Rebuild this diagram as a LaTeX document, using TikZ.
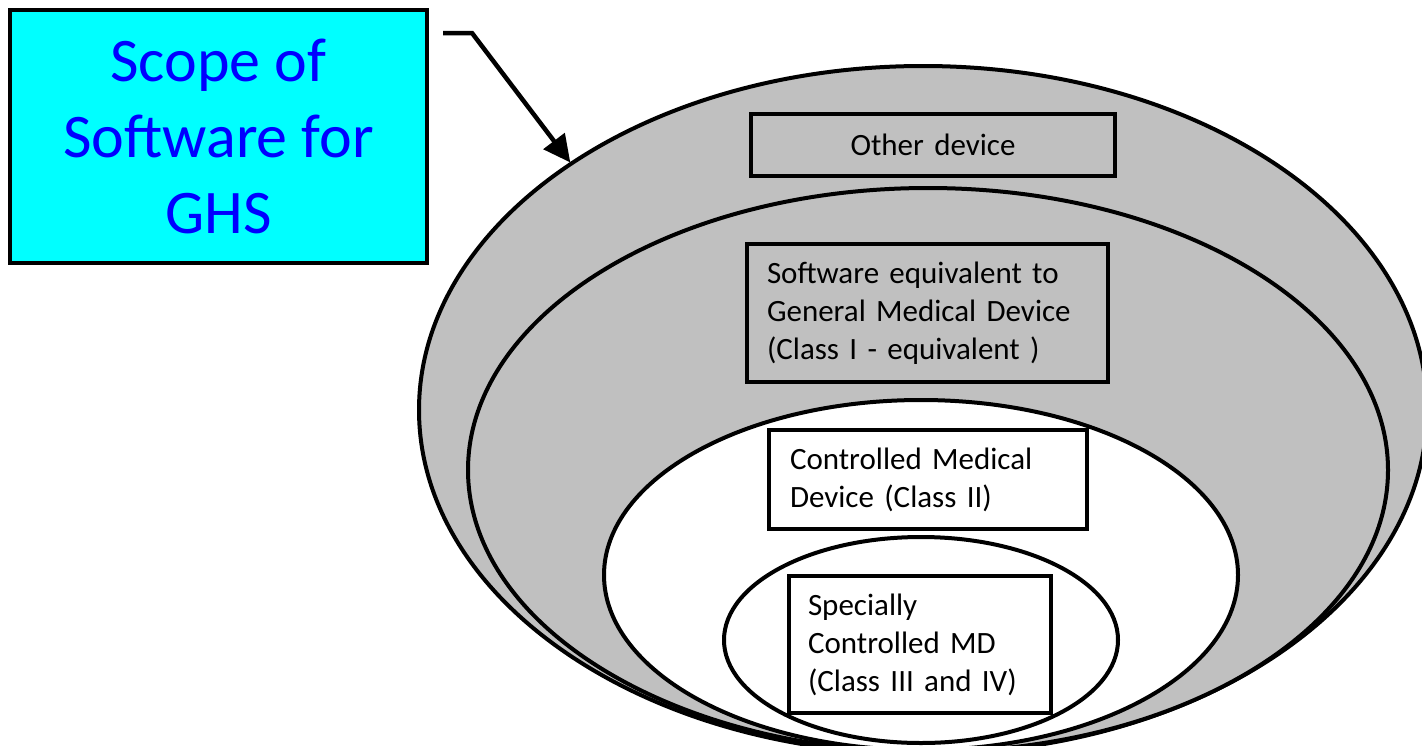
\documentclass[tikz,border=0pt]{standalone}
\usepackage{fontspec}
\setmainfont{Carlito}
\usetikzlibrary{arrows.meta,shapes.geometric}
\definecolor{boxcyan}{RGB}{0,255,255}
\definecolor{txtblue}{RGB}{0,0,255}
\definecolor{silv}{RGB}{192,192,192}
\begin{document}
\begin{tikzpicture}[x=1pt,y=-1pt,
  ring/.style={ellipse, draw=black, line width=4pt, inner sep=0pt, outer sep=0pt},
  lbl/.style={rectangle, draw=black, line width=3.5pt, outer sep=0pt, inner ysep=0pt,
              font=\fontsize{31}{38}\selectfont, align=left},
  title/.style={rectangle, draw=black, line width=4.5pt, fill=boxcyan, outer sep=0pt,
              inner sep=0pt, text=txtblue, font=\fontsize{62}{76}\selectfont, align=center},
  pointer/.style={line width=4.5pt, -{Triangle[length=27pt,width=26pt]}, shorten >=1.5pt}
]
\useasboundingbox (0,0) rectangle (1422,745);
\clip (0,0) rectangle (1422,745);
\fill[white] (0,0) rectangle (1422,745);

% nested ellipses
\node[ring, fill=silv, minimum width=1008pt, minimum height=688pt] (outer) at (923,410) {};
\node[ring, fill=silv, minimum width=920pt, minimum height=564pt] (second) at (928,470) {};
\node[ring, fill=white, minimum width=634pt, minimum height=350pt] (third) at (921,575) {};
\node[ring, fill=white, minimum width=394pt, minimum height=206pt] (inner) at (921,640) {};

% labels
\node[lbl, fill=silv, align=center, inner xsep=20pt, text width=324pt,
      minimum width=364pt, minimum height=62pt] (other) at (933,145) {Other device};
\node[lbl, fill=silv, inner xsep=20pt, text width=321pt,
      minimum width=361pt, minimum height=138pt] (classone) at (927.5,313)
      {Software equivalent to\\General Medical Device\\(Class I - equivalent )};
\node[lbl, fill=white, inner xsep=21pt, text width=276pt,
      minimum width=318pt, minimum height=99pt] (classtwo) at (928,479.5)
      {Controlled Medical\\Device (Class II)};
\node[lbl, fill=white, inner xsep=19pt, text width=224pt,
      minimum width=262pt, minimum height=137pt] (classthree) at (920,644.5)
      {Specially\\Controlled MD\\(Class III and IV)};

% title box
\node[title, minimum width=417pt, minimum height=253pt] (scope) at (218.5,136.5)
      {Scope of\\Software for\\GHS};

% arrow
\coordinate (astart) at (443,33);
\coordinate (abend) at (472,33);
\draw[pointer] (astart) -- (abend) -- (outer.145.5);
\end{tikzpicture}
\end{document}
